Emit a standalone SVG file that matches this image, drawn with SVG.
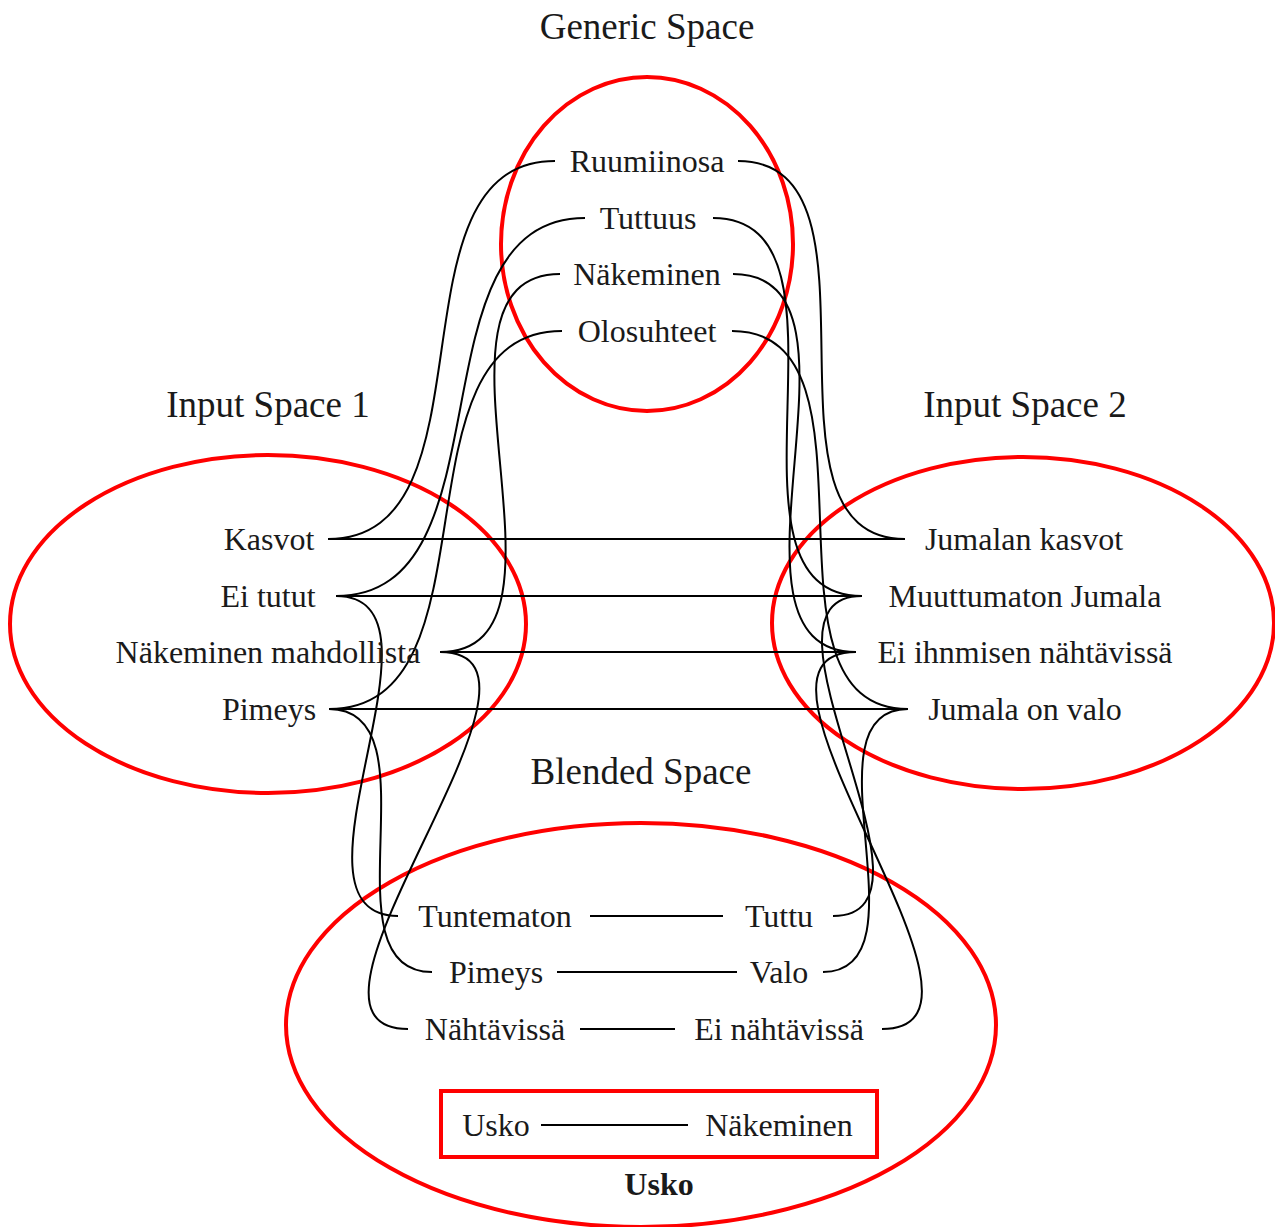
<svg xmlns="http://www.w3.org/2000/svg" width="1275" height="1227" viewBox="0 0 1275 1227">
<style>
.sp{fill:none;stroke:#ff0000;stroke-width:4}
.t{font-family:"Liberation Serif","Times New Roman",serif;font-size:32px;fill:#1a1a1a;text-anchor:middle}
.h{font-family:"Liberation Serif","Times New Roman",serif;font-size:37px;fill:#1a1a1a;text-anchor:middle}
.b{font-family:"Liberation Serif","Times New Roman",serif;font-size:32px;font-weight:bold;fill:#1a1a1a;text-anchor:middle}
.c{fill:none;stroke:#000;stroke-width:2}
</style>
<rect width="1275" height="1227" fill="#fff"/>
<g id="spaces">
<ellipse id="generic-space" class="sp" cx="647" cy="244" rx="146" ry="167"/>
<ellipse id="input-space-1" class="sp" cx="268" cy="624" rx="258" ry="169"/>
<ellipse id="input-space-2" class="sp" cx="1023" cy="623" rx="251" ry="166"/>
<ellipse id="blended-space" class="sp" cx="641" cy="1025" rx="355" ry="202"/>
<rect id="usko-box" class="sp" x="441" y="1091" width="436" height="66"/>
</g>
<g id="titles">
<text class="h" x="647" y="39">Generic Space</text>
<text class="h" x="268" y="417">Input Space 1</text>
<text class="h" x="1025" y="417">Input Space 2</text>
<text class="h" x="641" y="784">Blended Space</text>
<text class="b" x="659" y="1195">Usko</text>
</g>
<g id="connectors">
<path class="c" d="M555,161 C382.4,161 500.6,539 328,539"/>
<path class="c" d="M585,218 C407.8,218 513.2,596 336,596"/>
<path class="c" d="M560,274 C404.7,274 595.3,652 440,652"/>
<path class="c" d="M562,331 C388.2,331 502.8,709 329,709"/>
<path class="c" d="M738,161 C899.8,161 743.2,539 905,539"/>
<path class="c" d="M713,218 C872.1,218 702.9,596 862,596"/>
<path class="c" d="M733,274 C888.6,274 700.4,652 856,652"/>
<path class="c" d="M732,331 C895.2,331 744.8,709 908,709"/>
<path class="c" d="M328,539 H905"/>
<path class="c" d="M336,596 H862"/>
<path class="c" d="M440,652 H856"/>
<path class="c" d="M329,709 H908"/>
<path class="c" d="M336,596 C463.6,596 270.4,916 398,916"/>
<path class="c" d="M440,652 C588.1,652 259.9,1029 408,1029"/>
<path class="c" d="M329,709 C439.6,709 321.4,972 432,972"/>
<path class="c" d="M862,596 C736.2,596 958.8,916 833,916"/>
<path class="c" d="M856,652 C708.1,652 1029.9,1029 882,1029"/>
<path class="c" d="M908,709 C799.8,709 931.2,972 823,972"/>
<path class="c" d="M590,916 H723"/>
<path class="c" d="M557,972 H737"/>
<path class="c" d="M580,1029 H675"/>
<path class="c" d="M541,1125 H688"/>
</g>
<g id="n-ruumiinosa"><text class="t" x="647" y="172">Ruumiinosa</text></g>
<g id="n-tuttuus"><text class="t" x="648" y="229">Tuttuus</text></g>
<g id="n-nakeminen"><text class="t" x="647" y="285">Näkeminen</text></g>
<g id="n-olosuhteet"><text class="t" x="647" y="342">Olosuhteet</text></g>
<g id="n-kasvot"><text class="t" x="269" y="550">Kasvot</text></g>
<g id="n-ei-tutut"><text class="t" x="268" y="607">Ei tutut</text></g>
<g id="n-nakeminen-mahdollista"><text class="t" x="268" y="663">Näkeminen mahdollista</text></g>
<g id="n-pimeys1"><text class="t" x="269" y="720">Pimeys</text></g>
<g id="n-jumalan-kasvot"><text class="t" x="1024" y="550">Jumalan kasvot</text></g>
<g id="n-muuttumaton"><text class="t" x="1025" y="607">Muuttumaton Jumala</text></g>
<g id="n-ei-ihnmisen"><text class="t" x="1025" y="663">Ei ihnmisen nähtävissä</text></g>
<g id="n-jumala-valo"><text class="t" x="1025" y="720">Jumala on valo</text></g>
<g id="n-tuntematon"><text class="t" x="495" y="927">Tuntematon</text></g>
<g id="n-tuttu"><text class="t" x="779" y="927">Tuttu</text></g>
<g id="n-pimeys2"><text class="t" x="496" y="983">Pimeys</text></g>
<g id="n-valo"><text class="t" x="779" y="983">Valo</text></g>
<g id="n-nahtavissa"><text class="t" x="495" y="1040">Nähtävissä</text></g>
<g id="n-ei-nahtavissa"><text class="t" x="779" y="1040">Ei nähtävissä</text></g>
<g id="n-usko"><text class="t" x="496" y="1136">Usko</text></g>
<g id="n-nakeminen2"><text class="t" x="779" y="1136">Näkeminen</text></g>
</svg>
